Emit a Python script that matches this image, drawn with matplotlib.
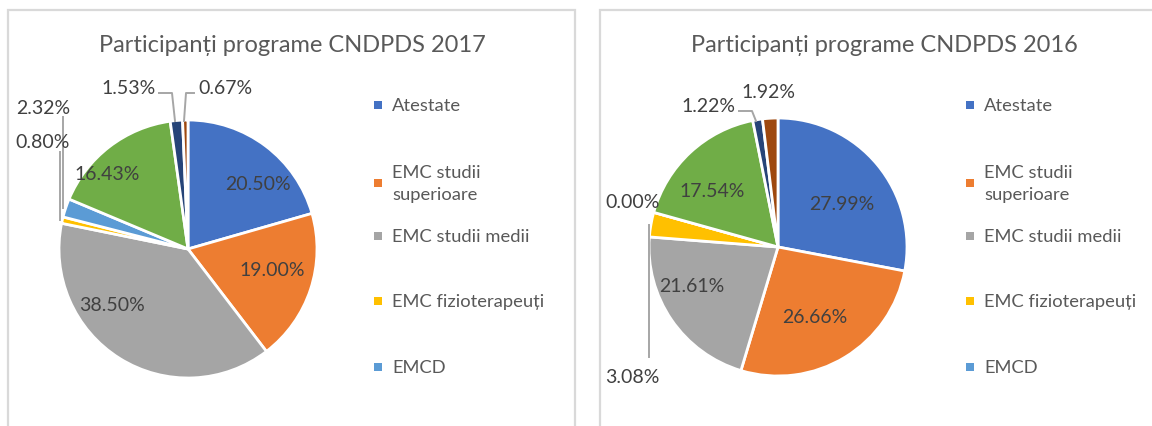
import matplotlib.pyplot as plt
from matplotlib.patches import Rectangle

W, H = 1152, 427

categories = ["Atestate", "EMC studii superioare", "EMC studii medii",
              "EMC fizioterapeuți", "EMCD", "Altele 1", "Altele 2", "Altele 3"]
legend_labels = ["Atestate", "EMC studii\nsuperioare", "EMC studii medii",
                 "EMC fizioterapeuți", "EMCD"]
colors = ["#4472C4", "#ED7D31", "#A5A5A5", "#FFC000",
          "#5B9BD5", "#70AD47", "#264478", "#9E480E"]

vals_2017 = [20.50, 19.00, 38.50, 0.80, 2.32, 16.43, 1.53, 0.67]
vals_2016 = [27.99, 26.66, 21.61, 3.08, 0.00, 17.54, 1.22, 1.92]
labels_2017 = ["20.50%", "19.00%", "38.50%", "0.80%", "2.32%", "16.43%", "1.53%", "0.67%"]
labels_2016 = ["27.99%", "26.66%", "21.61%", "3.08%", "0.00%", "17.54%", "1.22%", "1.92%"]

plt.rcParams['font.family'] = ['Lato', 'DejaVu Sans']

fig = plt.figure(figsize=(W / 100, H / 100), dpi=100)
ax = fig.add_axes([0, 0, 1, 1])


def Y(py):
    return H - py


# panel frames
for x0, x1 in [(8, 575), (600, 1170)]:
    ax.add_patch(Rectangle((x0, -10), x1 - x0, Y(11) + 10, fill=False,
                           edgecolor="#D9D9D9", lw=1.6))

panels = [
    dict(vals=vals_2017, labels=labels_2017, title="Participanți programe CNDPDS 2017",
         center=(188, 250), title_x=292, legend_x=378,
         label_pos=[(258, 185), (272, 270), (112, 306), (43, 142), (43, 108),
                    (107, 175), (129, 88), (225, 88)],
         leaders={3: [(60, 153), (60, 221)], 4: [(63, 118), (63, 209)],
                  6: [(159, 94), (172, 94), (175, 122)],
                  7: [(194, 94), (186, 94), (184, 122)]}),
    dict(vals=vals_2016, labels=labels_2016, title="Participanți programe CNDPDS 2016",
         center=(778, 248), title_x=884, legend_x=970,
         label_pos=[(842, 205), (815, 318), (692, 287), (632, 378), (633, 203),
                    (712, 192), (708, 107), (768, 93)],
         leaders={3: [(649, 358), (649, 226)],
                  6: [(739, 112), (752, 112), (756, 122)]}),
]

for p in panels:
    cx, cy = p["center"]
    ax.pie(p["vals"], colors=colors, startangle=90, counterclock=False,
           center=(cx, Y(cy)), radius=129, frame=True,
           wedgeprops=dict(edgecolor="white", linewidth=2))
    for lab, (lx, ly) in zip(p["labels"], p["label_pos"]):
        ax.text(lx, Y(ly), lab, ha="center", va="center", fontsize=14,
                color="#404040")
    for pts in p["leaders"].values():
        ax.plot([q[0] for q in pts], [Y(q[1]) for q in pts], color="#A6A6A6", lw=1.4)
    ax.text(p["title_x"], Y(46), p["title"], ha="center", va="center",
            fontsize=17, color="#595959")
    # legend (only first five entries visible)
    ys = [106, 184, 237, 302, 368]
    for i, (lab, ly) in enumerate(zip(legend_labels, ys)):
        lx = p["legend_x"]
        ax.add_patch(Rectangle((lx - 4, Y(ly) - 4), 8, 8, color=colors[i], lw=0))
        ax.text(lx + 14, Y(ly), lab, ha="left", va="center", fontsize=13.2,
                color="#595959", linespacing=1.4)

ax.set_xlim(0, W)
ax.set_ylim(0, H)
ax.set_aspect("auto")
ax.axis("off")

fig.savefig("out.png", dpi=100)
